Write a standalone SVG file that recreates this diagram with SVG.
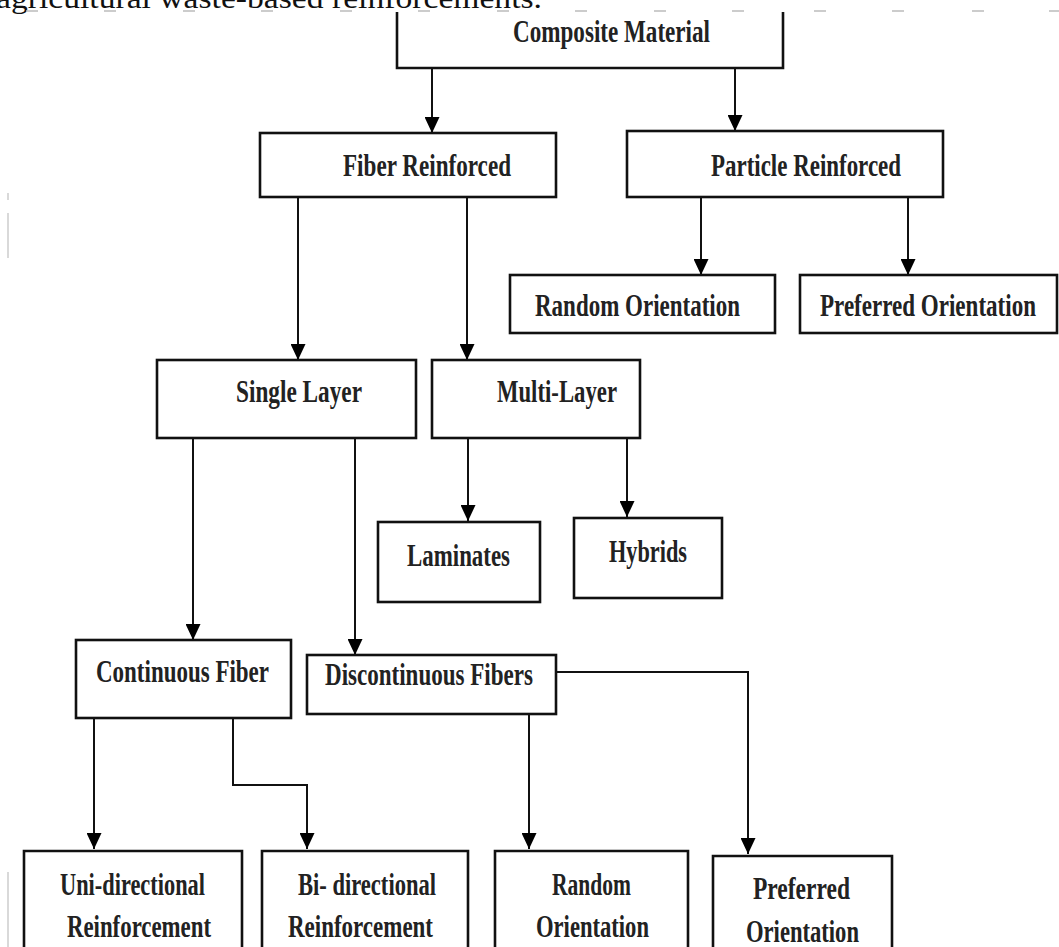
<svg xmlns="http://www.w3.org/2000/svg" width="1059" height="947" viewBox="0 0 1059 947">
<defs>
<style>
.box{fill:#fff;stroke:#111;stroke-width:2.6}
.lbl{font-family:"Liberation Serif","Times New Roman",serif;font-weight:bold;font-size:31px;fill:#222}
.con{fill:none;stroke:#111;stroke-width:2}
.dash{stroke:#bbb;stroke-width:1.5}
.faint{stroke:#ccc;stroke-width:1.5}
</style>
<marker id="ah" markerUnits="userSpaceOnUse" markerWidth="16" markerHeight="15" refX="16" refY="7.5" orient="auto">
<path d="M0,0 L16,7.5 L0,15 z" fill="#000"/>
</marker>
</defs>
<rect width="1059" height="947" fill="#fff"/>
<g id="page-bits">
<text x="-4" y="8" font-family="Liberation Serif, serif" font-size="30" fill="#111" textLength="546" lengthAdjust="spacingAndGlyphs">agricultural waste-based reinforcements.</text>
<g class="dash">
<line x1="26" y1="11" x2="38" y2="11"/><line x1="104" y1="11" x2="116" y2="11"/><line x1="183" y1="11" x2="195" y2="11"/><line x1="261" y1="11" x2="273" y2="11"/><line x1="340" y1="11" x2="352" y2="11"/><line x1="418" y1="11" x2="430" y2="11"/><line x1="497" y1="11" x2="509" y2="11"/><line x1="575" y1="11" x2="587" y2="11"/><line x1="654" y1="11" x2="666" y2="11"/><line x1="732" y1="11" x2="744" y2="11"/><line x1="814" y1="11" x2="826" y2="11"/><line x1="892" y1="11" x2="904" y2="11"/><line x1="972" y1="11" x2="984" y2="11"/><line x1="1049" y1="11" x2="1059" y2="11"/>
</g>
<line class="faint" x1="8" y1="193" x2="8" y2="200"/>
<line class="faint" x1="8" y1="213" x2="8" y2="258"/>
<line class="faint" x1="8" y1="872" x2="8" y2="947"/>
</g>
<g id="connectors">
<line class="con" x1="432" y1="68" x2="432" y2="133" marker-end="url(#ah)"/>
<line class="con" x1="735" y1="68" x2="735" y2="131" marker-end="url(#ah)"/>
<line class="con" x1="701" y1="197" x2="701" y2="275" marker-end="url(#ah)"/>
<line class="con" x1="908" y1="197" x2="908" y2="275" marker-end="url(#ah)"/>
<line class="con" x1="298" y1="197" x2="298" y2="360" marker-end="url(#ah)"/>
<line class="con" x1="467" y1="197" x2="467" y2="360" marker-end="url(#ah)"/>
<line class="con" x1="468" y1="438" x2="468" y2="521" marker-end="url(#ah)"/>
<line class="con" x1="627" y1="438" x2="627" y2="517" marker-end="url(#ah)"/>
<line class="con" x1="193" y1="438" x2="193" y2="640" marker-end="url(#ah)"/>
<line class="con" x1="355" y1="438" x2="355" y2="655" marker-end="url(#ah)"/>
<line class="con" x1="94" y1="718" x2="94" y2="849" marker-end="url(#ah)"/>
<polyline class="con" points="233,718 233,785 307,785 307,849" marker-end="url(#ah)"/>
<line class="con" x1="529" y1="714" x2="529" y2="849" marker-end="url(#ah)"/>
<polyline class="con" points="556,672 748,672 748,854" marker-end="url(#ah)"/>
</g>
<g id="composite-material">
<path class="box" d="M397,12 L397,68 L783,68 L783,12"/>
<text class="lbl" x="513" y="42" textLength="197" lengthAdjust="spacingAndGlyphs">Composite Material</text>
</g>
<g id="fiber-reinforced">
<rect class="box" x="260" y="133" width="296" height="64"/>
<text class="lbl" x="343" y="176" textLength="168" lengthAdjust="spacingAndGlyphs">Fiber Reinforced</text>
</g>
<g id="particle-reinforced">
<rect class="box" x="627" y="131" width="316" height="66"/>
<text class="lbl" x="711" y="176" textLength="190" lengthAdjust="spacingAndGlyphs">Particle Reinforced</text>
</g>
<g id="random-orientation-particle">
<rect class="box" x="510" y="275" width="265" height="58"/>
<text class="lbl" x="535" y="316" textLength="205" lengthAdjust="spacingAndGlyphs">Random  Orientation</text>
</g>
<g id="preferred-orientation-particle">
<rect class="box" x="800" y="275" width="257" height="58"/>
<text class="lbl" x="820" y="316" textLength="216" lengthAdjust="spacingAndGlyphs">Preferred Orientation</text>
</g>
<g id="single-layer">
<rect class="box" x="157" y="360" width="259" height="78"/>
<text class="lbl" x="236" y="402" textLength="126" lengthAdjust="spacingAndGlyphs">Single Layer</text>
</g>
<g id="multi-layer">
<rect class="box" x="432" y="360" width="208" height="78"/>
<text class="lbl" x="497" y="402" textLength="120" lengthAdjust="spacingAndGlyphs">Multi-Layer</text>
</g>
<g id="laminates">
<rect class="box" x="378" y="522" width="162" height="80"/>
<text class="lbl" x="407" y="566" textLength="103" lengthAdjust="spacingAndGlyphs">Laminates</text>
</g>
<g id="hybrids">
<rect class="box" x="574" y="518" width="148" height="80"/>
<text class="lbl" x="609" y="562" textLength="78" lengthAdjust="spacingAndGlyphs">Hybrids</text>
</g>
<g id="continuous-fiber">
<rect class="box" x="76" y="640" width="215" height="78"/>
<text class="lbl" x="96" y="682" textLength="173" lengthAdjust="spacingAndGlyphs">Continuous  Fiber</text>
</g>
<g id="discontinuous-fibers">
<rect class="box" x="307" y="655" width="249" height="59"/>
<text class="lbl" x="325" y="685" textLength="208" lengthAdjust="spacingAndGlyphs">Discontinuous  Fibers</text>
</g>
<g id="uni-directional">
<path class="box" d="M24,960 L24,851 L242,851 L242,960"/>
<text class="lbl" x="60" y="895" textLength="145" lengthAdjust="spacingAndGlyphs">Uni-directional</text>
<text class="lbl" x="67" y="937" textLength="144" lengthAdjust="spacingAndGlyphs">Reinforcement</text>
</g>
<g id="bi-directional">
<path class="box" d="M262,960 L262,851 L468,851 L468,960"/>
<text class="lbl" x="298" y="895" textLength="138" lengthAdjust="spacingAndGlyphs">Bi- directional</text>
<text class="lbl" x="288" y="937" textLength="145" lengthAdjust="spacingAndGlyphs">Reinforcement</text>
</g>
<g id="random-orientation-fiber">
<path class="box" d="M495,960 L495,851 L688,851 L688,960"/>
<text class="lbl" x="552" y="895" textLength="79" lengthAdjust="spacingAndGlyphs">Random</text>
<text class="lbl" x="536" y="937" textLength="113" lengthAdjust="spacingAndGlyphs">Orientation</text>
</g>
<g id="preferred-orientation-fiber">
<path class="box" d="M713,960 L713,856 L892,856 L892,960"/>
<text class="lbl" x="753" y="899" textLength="97" lengthAdjust="spacingAndGlyphs">Preferred</text>
<text class="lbl" x="746" y="942" textLength="113" lengthAdjust="spacingAndGlyphs">Orientation</text>
</g>
</svg>
